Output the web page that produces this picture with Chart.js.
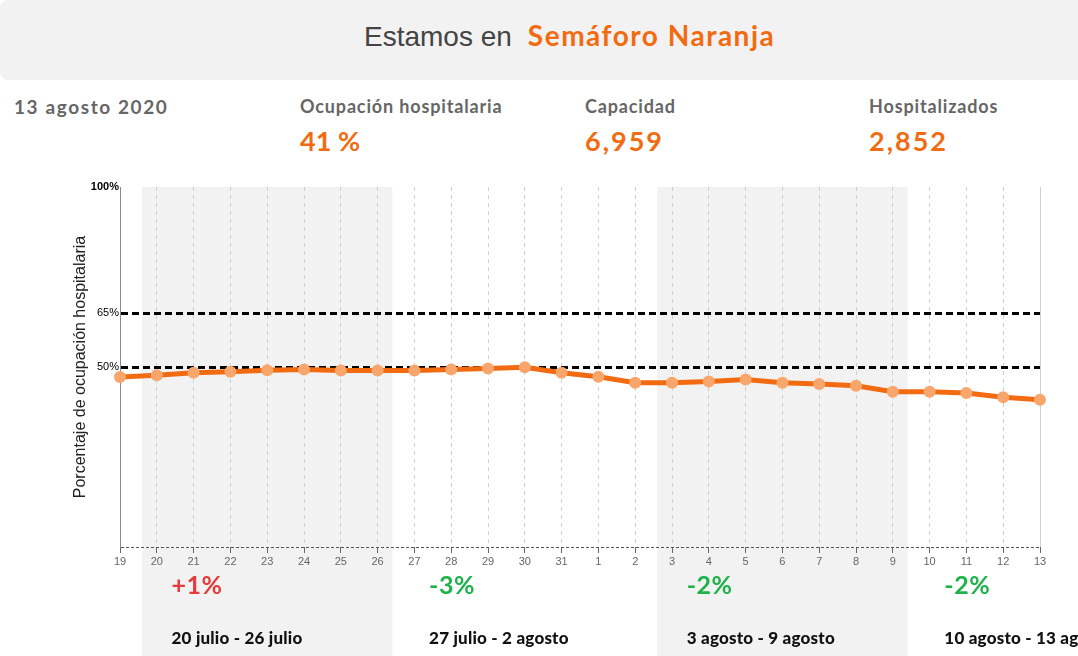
<!DOCTYPE html>
<html><head><meta charset="utf-8">
<script src="https://cdn.jsdelivr.net/npm/chart.js@4.4.0/dist/chart.umd.min.js"></script>
<style>
html,body{margin:0;padding:0;width:1078px;height:656px;overflow:hidden;background:#fff;}
#wrap{position:relative;width:1078px;height:656px;}
#c{position:absolute;left:0;top:0;}
.hdr{position:absolute;left:0;top:0;width:1100px;height:80px;background:#f2f2f2;border-radius:8px;}
.ttl{position:absolute;left:364px;top:17px;font-family:'Liberation Sans',Arial,sans-serif;font-size:28px;color:#444;white-space:nowrap;line-height:36px;}
.ttl b{font-family:Lato,sans-serif;font-weight:700;color:#f26b10;margin-left:16px;letter-spacing:1.5px;}
.lbl{position:absolute;font-family:Lato,sans-serif;font-weight:700;font-size:18px;color:#666;white-space:nowrap;line-height:22px;letter-spacing:0.85px;}
.val{position:absolute;font-family:Lato,sans-serif;font-weight:700;font-size:27px;color:#f26b10;white-space:nowrap;line-height:30px;}
</style></head>
<body><div id="wrap">
<div class="hdr"></div>
<div class="ttl">Estamos en<b>Semáforo Naranja</b></div>
<div class="lbl" style="left:14px;top:96px;font-size:19px;letter-spacing:1.6px;">13 agosto 2020</div>
<div class="lbl" style="left:300px;top:95px;">Ocupación hospitalaria</div>
<div class="lbl" style="left:585px;top:95px;">Capacidad</div>
<div class="lbl" style="left:869px;top:95px;">Hospitalizados</div>
<div class="val" style="left:300px;top:126px;">41 %</div>
<div class="val" style="left:585px;top:126px;letter-spacing:2px;">6,959</div>
<div class="val" style="left:869px;top:126px;letter-spacing:2px;">2,852</div>
<canvas id="c" width="1078" height="656"></canvas>
</div>
<script>
const days = ['19','20','21','22','23','24','25','26','27','28','29','30','31','1','2','3','4','5','6','7','8','9','10','11','12','13'];
const occupancy = [47.2,47.7,48.4,48.7,49.1,49.3,49.0,49.0,49.0,49.3,49.6,49.9,48.4,47.3,45.6,45.6,46.0,46.5,45.6,45.3,44.8,43.1,43.1,42.8,41.6,40.9];
const yTicks = [0,50,65,100];
const thresholds = [50,65];
const weekStart = ['20','27','3','10'];
const weekEnd = ['26','2','9','13'];
const weekRanges = ['20 julio - 26 julio','27 julio - 2 agosto','3 agosto - 9 agosto','10 agosto - 13 agosto'];
const weekChanges = ['+1%','-3%','-2%','-2%'];
const weekShaded = [true,false,true,false];

const ORANGE = '#f26b10';

const weeksPlugin = {
  id:'weeks',
  beforeDraw(chart){
    const {ctx, chartArea} = chart;
    const xs = chart.scales.x;
    const step = xs.getPixelForValue(1) - xs.getPixelForValue(0);
    ctx.save();
    ctx.fillStyle = '#f2f2f2';
    weekStart.forEach((s,i)=>{
      if(!weekShaded[i]) return;
      const a = xs.getPixelForValue(days.indexOf(s)) - step*0.4;
      const b = xs.getPixelForValue(days.lastIndexOf(weekEnd[i])) + step*0.4;
      ctx.fillRect(a, chartArea.top, b-a, chart.height - chartArea.top);
    });
    ctx.restore();
  },
  afterDraw(chart){
    const {ctx} = chart;
    const xs = chart.scales.x;
    const step = xs.getPixelForValue(1) - xs.getPixelForValue(0);
    ctx.save();
    ctx.textAlign = 'left';
    ctx.textBaseline = 'alphabetic';
    weekStart.forEach((s,i)=>{
      const x = xs.getPixelForValue(days.indexOf(s)) + step*0.4;
      ctx.font = '700 25px Lato, sans-serif';
      ctx.letterSpacing = '0.5px';
      ctx.fillStyle = weekChanges[i].startsWith('+') ? '#e53b3b' : '#1db34a';
      ctx.fillText(weekChanges[i], x, 594);
      ctx.font = '900 17px Lato, sans-serif';
      ctx.letterSpacing = '0.2px';
      ctx.fillStyle = '#111';
      ctx.fillText(weekRanges[i], x, 644);
    });
    ctx.restore();
  }
};

new Chart(document.getElementById('c'), {
  type:'line',
  data:{
    labels: days,
    datasets:[{
      data: occupancy,
      borderColor: ORANGE,
      borderWidth: 5,
      pointRadius: 6,
      pointBackgroundColor: '#f9a66c',
      pointBorderWidth: 0,
      pointHoverRadius: 6,
      tension: 0,
      fill: false
    }]
  },
  options:{
    responsive:false,
    animation:false,
    devicePixelRatio:1,
    layout:{padding:{top:187,left:60,right:38,bottom:89}},
    plugins:{legend:{display:false},tooltip:{enabled:false}},
    scales:{
      x:{
        type:'category',
        offset:false,
        afterFit(s){ s.height = 20; },
        grid:{
          color: c => c.index === days.length-1 ? '#d0d0d0' : '#cfcfcf',
          lineWidth:1,
          drawTicks:true,
          tickLength:6,
          tickColor:'#666',
          tickBorderDash:[]
        },
        border:{display:false, dash: c => c.index === days.length-1 ? [] : [4,4]},
        ticks:{
          color:'#666',
          font:{family:"'Liberation Sans', Arial, sans-serif", size:11},
          padding:2,
          maxRotation:0,
          autoSkip:false
        }
      },
      y:{
        min:0,max:100,
        afterFit(s){ s.width = 60; },
        afterBuildTicks(s){ s.ticks = yTicks.map(v=>({value:v})); },
        grid:{
          drawTicks:false,
          color: c => {
            const v = c.tick ? c.tick.value : null;
            if (thresholds.includes(v)) return '#000';
            if (v === 0) return '#555';
            return 'rgba(0,0,0,0)';
          },
          lineWidth: c => (c.tick && thresholds.includes(c.tick.value)) ? 3 : 1
        },
        border:{
          display:true, color:'#8a8a8a', width:1,
          dash: c => (c.tick && thresholds.includes(c.tick.value)) ? [7,4] : [3,2]
        },
        title:{
          display:true,
          text:'Porcentaje de ocupación hospitalaria',
          color:'#222',
          font:{family:"'Liberation Sans', Arial, sans-serif", size:16},
          padding:{top:11,bottom:0}
        },
        ticks:{
          padding:1,
          color:'#000',
          callback: v => v === 0 ? '' : v + '%',
          font: c => ({family:"'Liberation Sans', Arial, sans-serif", size:11, weight: (c.tick && c.tick.value===100) ? 'bold' : 'normal'})
        }
      }
    }
  },
  plugins:[weeksPlugin]
});
</script>
</body></html>
